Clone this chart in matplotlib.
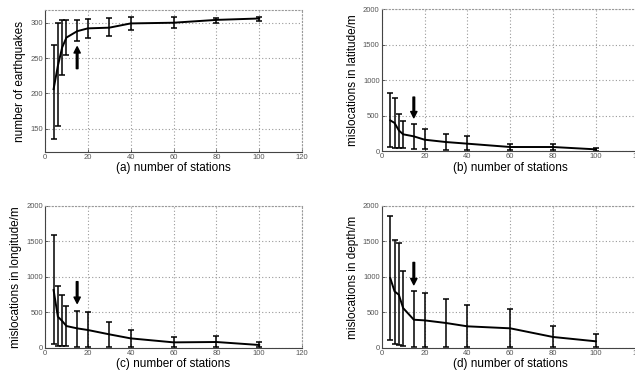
import matplotlib.pyplot as plt
import numpy as np

plt.rcParams['font.family'] = ['Liberation Sans', 'DejaVu Sans']

# -----------------------------
# Data
# -----------------------------
stations = [4, 6, 8, 10, 15, 20, 30, 40, 60, 80, 100]

eq_mean = [206, 239, 265, 279, 288, 292, 293, 299, 300, 304, 306]
eq_low = [136, 154, 226, 255, 274, 279, 281, 289, 292, 300, 303]
eq_high = [268, 299, 304, 304, 304, 305, 307, 308, 308, 307, 308]

lat_mean = [436, 400, 295, 240, 211, 164, 131, 108, 61, 61, 28]
lat_low = [61, 47, 47, 47, 38, 28, 14, 19, 19, 19, 5]
lat_high = [820, 745, 530, 427, 389, 319, 239, 216, 98, 98, 47]

lon_mean = [812, 437, 376, 305, 272, 249, 188, 131, 75, 80, 38]
lon_low = [52, 28, 28, 28, 14, 14, 14, 14, 14, 14, 14]
lon_high = [1582, 873, 746, 592, 516, 502, 366, 244, 146, 160, 85]

dep_mean = [985, 797, 750, 563, 398, 389, 352, 305, 277, 155, 94]
dep_low = [108, 61, 42, 23, 14, 14, 14, 14, 14, 14, 14]
dep_high = [1852, 1524, 1477, 1088, 797, 774, 694, 610, 549, 305, 197]

# arrows at the chosen number of stations: (x, tail y, head y)
arrows = [(15, 235, 266), (15, 764, 473), (15, 930, 624), (15, 1205, 891)]

panels = [
    ("(a) number of stations", "number of earthquakes", eq_mean, eq_low, eq_high,
     (117, 318), [150, 200, 250, 300]),
    ("(b) number of stations", "mislocations in latitude/m", lat_mean, lat_low, lat_high,
     (0, 2000), [0, 500, 1000, 1500, 2000]),
    ("(c) number of stations", "mislocations in longitude/m", lon_mean, lon_low, lon_high,
     (0, 2000), [0, 500, 1000, 1500, 2000]),
    ("(d) number of stations", "mislocations in depth/m", dep_mean, dep_low, dep_high,
     (0, 2000), [0, 500, 1000, 1500, 2000]),
]

# axes positions in figure fractions
W, H = 0.4047, 0.3777
positions = [
    [0.0709, 0.5957, W, H],
    [0.6011, 0.5975, W, H],
    [0.0709, 0.0753, W, H],
    [0.6011, 0.0745, W, H],
]

fig = plt.figure(figsize=(6.35, 3.76), dpi=100)

x = np.array(stations)
for pos, panel, arr in zip(positions, panels, arrows):
    xlabel, ylabel, mean, low, high, ylim, yticks = panel
    mean = np.array(mean)
    err = [mean - np.array(low), np.array(high) - mean]

    ax = fig.add_axes(pos)
    ax.errorbar(x, mean, yerr=err, color="black", linewidth=1.4,
                elinewidth=1.1, capsize=2.2, capthick=1.1)

    ax.annotate("", xy=(arr[0], arr[2]), xytext=(arr[0], arr[1]),
                arrowprops=dict(facecolor="black", edgecolor="black",
                                width=1.2, headwidth=4.5, headlength=4.5))

    ax.set_xlim(0, 120)
    ax.set_ylim(*ylim)
    ax.set_xticks([0, 20, 40, 60, 80, 100, 120])
    ax.set_yticks(yticks)
    ax.grid(True, linestyle=(0, (1, 2)), color="#999999", linewidth=0.8)

    for s in ["top", "right"]:
        ax.spines[s].set_linestyle((0, (1, 2)))
        ax.spines[s].set_color("#999999")
        ax.spines[s].set_linewidth(0.8)
    for s in ["left", "bottom"]:
        ax.spines[s].set_color("#444444")
        ax.spines[s].set_linewidth(0.8)

    ax.tick_params(direction="in", length=2, width=0.6, labelsize=5.5,
                   labelcolor="#555555", color="#444444", pad=1.5)
    ax.set_xlabel(xlabel, fontsize=8.5, labelpad=1)
    ax.set_ylabel(ylabel, fontsize=8.5, labelpad=3)

fig.savefig("out.png", dpi=100)
